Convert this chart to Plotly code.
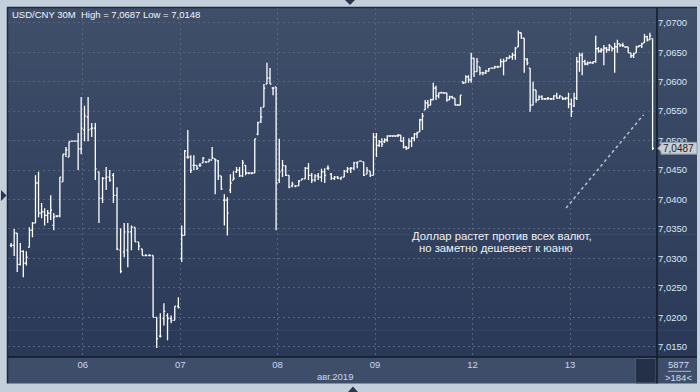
import plotly.graph_objects as go

# ---------------- data (USD/CNY, 30-minute bars) ----------------
day_labels = ["05", "06", "07", "08", "09", "12", "13"]
bars_per_day = [24, 27, 32, 30, 36, 33, 31]

open_ = [
    7.0322, 7.0322, 7.0343, 7.0290, 7.0312, 7.0292, 7.0319, 7.0348, 7.0360, 7.0428, 7.0377, 7.0379,
    7.0373, 7.0377, 7.0356, 7.0372, 7.0372, 7.0430, 7.0477, 7.0472, 7.0499, 7.0499, 7.0499, 7.0486,
    7.0518, 7.0540, 7.0520, 7.0521, 7.0447, 7.0402, 7.0436, 7.0438, 7.0441, 7.0407, 7.0314, 7.0311,
    7.0314, 7.0345, 7.0353, 7.0328, 7.0316, 7.0305, 7.0305, 7.0305, 7.0200, 7.0168, 7.0198, 7.0203,
    7.0198, 7.0195, 7.0219,
    7.0300, 7.0339, 7.0472, 7.0472, 7.0458, 7.0458, 7.0458, 7.0462, 7.0464, 7.0464, 7.0467, 7.0469,
    7.0465, 7.0440, 7.0399, 7.0399, 7.0416, 7.0433, 7.0447, 7.0450, 7.0440, 7.0458, 7.0445, 7.0445,
    7.0445, 7.0511, 7.0532, 7.0557, 7.0596, 7.0606, 7.0589, 7.0591,
    7.0433, 7.0450, 7.0457, 7.0441, 7.0423, 7.0423, 7.0423, 7.0433, 7.0435, 7.0453, 7.0441, 7.0433,
    7.0440, 7.0438, 7.0447, 7.0453, 7.0443, 7.0436, 7.0438, 7.0436, 7.0438, 7.0448, 7.0452, 7.0453,
    7.0462, 7.0465, 7.0464, 7.0443, 7.0448, 7.0441,
    7.0506, 7.0492, 7.0498, 7.0498, 7.0501, 7.0508, 7.0508, 7.0508, 7.0508, 7.0509, 7.0499, 7.0489,
    7.0487, 7.0499, 7.0504, 7.0511, 7.0515, 7.0535, 7.0552, 7.0564, 7.0560, 7.0569, 7.0589, 7.0576,
    7.0581, 7.0581, 7.0581, 7.0569, 7.0574, 7.0572, 7.0560, 7.0560, 7.0600, 7.0598, 7.0608, 7.0603,
    7.0640, 7.0617, 7.0625, 7.0615, 7.0615, 7.0618, 7.0623, 7.0623, 7.0625, 7.0625, 7.0634, 7.0635,
    7.0640, 7.0642, 7.0645, 7.0659, 7.0683, 7.0674, 7.0637, 7.0623, 7.0560, 7.0586, 7.0569, 7.0574,
    7.0571, 7.0571, 7.0571, 7.0571, 7.0576, 7.0572, 7.0574, 7.0571, 7.0572,
    7.0562, 7.0559, 7.0572, 7.0634, 7.0645, 7.0634, 7.0630, 7.0632, 7.0632, 7.0634, 7.0656, 7.0652,
    7.0654, 7.0657, 7.0654, 7.0659, 7.0656, 7.0659, 7.0664, 7.0662, 7.0659, 7.0659, 7.0649, 7.0644,
    7.0649, 7.0659, 7.0661, 7.0666, 7.0676, 7.0671, 7.0673,
]
high = [
    7.0326, 7.0350, 7.0343, 7.0326, 7.0314, 7.0312, 7.0353, 7.0362, 7.0441, 7.0447, 7.0394, 7.0385,
    7.0382, 7.0407, 7.0377, 7.0373, 7.0438, 7.0477, 7.0489, 7.0498, 7.0499, 7.0499, 7.0513, 7.0574,
    7.0559, 7.0574, 7.0530, 7.0530, 7.0447, 7.0438, 7.0455, 7.0450, 7.0445, 7.0421, 7.0351, 7.0360,
    7.0360, 7.0356, 7.0353, 7.0328, 7.0316, 7.0307, 7.0307, 7.0305, 7.0200, 7.0207, 7.0224, 7.0207,
    7.0203, 7.0219, 7.0234,
    7.0356, 7.0484, 7.0518, 7.0475, 7.0475, 7.0458, 7.0462, 7.0472, 7.0465, 7.0469, 7.0489, 7.0469,
    7.0467, 7.0440, 7.0409, 7.0404, 7.0443, 7.0448, 7.0455, 7.0455, 7.0467, 7.0458, 7.0445, 7.0445,
    7.0503, 7.0532, 7.0557, 7.0596, 7.0632, 7.0623, 7.0591, 7.0591,
    7.0503, 7.0467, 7.0458, 7.0441, 7.0430, 7.0424, 7.0433, 7.0436, 7.0455, 7.0462, 7.0445, 7.0443,
    7.0445, 7.0452, 7.0453, 7.0458, 7.0445, 7.0440, 7.0440, 7.0438, 7.0450, 7.0455, 7.0455, 7.0464,
    7.0464, 7.0465, 7.0464, 7.0455, 7.0448, 7.0513,
    7.0513, 7.0501, 7.0504, 7.0504, 7.0509, 7.0509, 7.0509, 7.0509, 7.0511, 7.0509, 7.0506, 7.0491,
    7.0504, 7.0506, 7.0513, 7.0515, 7.0537, 7.0547, 7.0569, 7.0569, 7.0571, 7.0598, 7.0593, 7.0581,
    7.0583, 7.0581, 7.0581, 7.0576, 7.0576, 7.0572, 7.0562, 7.0577, 7.0600, 7.0611, 7.0611, 7.0649,
    7.0640, 7.0640, 7.0625, 7.0617, 7.0620, 7.0623, 7.0623, 7.0627, 7.0627, 7.0639, 7.0639, 7.0642,
    7.0645, 7.0649, 7.0659, 7.0687, 7.0683, 7.0674, 7.0640, 7.0623, 7.0600, 7.0586, 7.0577, 7.0577,
    7.0571, 7.0574, 7.0571, 7.0577, 7.0581, 7.0577, 7.0574, 7.0574, 7.0581,
    7.0571, 7.0581, 7.0642, 7.0649, 7.0649, 7.0637, 7.0634, 7.0634, 7.0634, 7.0678, 7.0659, 7.0657,
    7.0662, 7.0659, 7.0664, 7.0659, 7.0666, 7.0671, 7.0664, 7.0666, 7.0659, 7.0659, 7.0649, 7.0649,
    7.0661, 7.0662, 7.0666, 7.0681, 7.0678, 7.0683, 7.0673,
]
low = [
    7.0319, 7.0304, 7.0277, 7.0288, 7.0268, 7.0288, 7.0319, 7.0336, 7.0360, 7.0370, 7.0368, 7.0356,
    7.0360, 7.0365, 7.0348, 7.0370, 7.0370, 7.0430, 7.0472, 7.0472, 7.0498, 7.0498, 7.0450, 7.0477,
    7.0499, 7.0499, 7.0506, 7.0433, 7.0360, 7.0394, 7.0416, 7.0430, 7.0394, 7.0314, 7.0275, 7.0302,
    7.0285, 7.0314, 7.0328, 7.0314, 7.0305, 7.0304, 7.0304, 7.0200, 7.0148, 7.0166, 7.0186, 7.0161,
    7.0190, 7.0195, 7.0215,
    7.0294, 7.0339, 7.0469, 7.0445, 7.0450, 7.0450, 7.0455, 7.0462, 7.0462, 7.0464, 7.0469, 7.0409,
    7.0433, 7.0416, 7.0356, 7.0339, 7.0411, 7.0433, 7.0445, 7.0438, 7.0438, 7.0441, 7.0443, 7.0443,
    7.0445, 7.0509, 7.0530, 7.0557, 7.0596, 7.0596, 7.0577, 7.0348,
    7.0428, 7.0438, 7.0440, 7.0419, 7.0421, 7.0421, 7.0423, 7.0433, 7.0435, 7.0433, 7.0428, 7.0430,
    7.0433, 7.0430, 7.0428, 7.0450, 7.0433, 7.0433, 7.0435, 7.0433, 7.0438, 7.0445, 7.0445, 7.0450,
    7.0453, 7.0464, 7.0440, 7.0443, 7.0438, 7.0441,
    7.0472, 7.0489, 7.0489, 7.0496, 7.0498, 7.0506, 7.0506, 7.0506, 7.0506, 7.0498, 7.0487, 7.0484,
    7.0487, 7.0489, 7.0499, 7.0504, 7.0515, 7.0518, 7.0552, 7.0555, 7.0560, 7.0569, 7.0569, 7.0572,
    7.0581, 7.0579, 7.0566, 7.0569, 7.0571, 7.0560, 7.0559, 7.0560, 7.0596, 7.0598, 7.0598, 7.0598,
    7.0608, 7.0617, 7.0611, 7.0611, 7.0613, 7.0617, 7.0622, 7.0622, 7.0623, 7.0625, 7.0611, 7.0635,
    7.0639, 7.0637, 7.0637, 7.0659, 7.0673, 7.0615, 7.0628, 7.0549, 7.0560, 7.0564, 7.0569, 7.0569,
    7.0569, 7.0569, 7.0569, 7.0569, 7.0571, 7.0571, 7.0569, 7.0569, 7.0555,
    7.0540, 7.0557, 7.0569, 7.0617, 7.0611, 7.0628, 7.0628, 7.0632, 7.0630, 7.0632, 7.0649, 7.0649,
    7.0628, 7.0649, 7.0652, 7.0651, 7.0615, 7.0649, 7.0659, 7.0659, 7.0657, 7.0649, 7.0640, 7.0640,
    7.0649, 7.0659, 7.0657, 7.0666, 7.0668, 7.0671, 7.0484,
]
close = [
    7.0322, 7.0343, 7.0290, 7.0312, 7.0292, 7.0302, 7.0348, 7.0360, 7.0428, 7.0377, 7.0379, 7.0373,
    7.0377, 7.0382, 7.0370, 7.0372, 7.0438, 7.0477, 7.0484, 7.0498, 7.0499, 7.0499, 7.0486, 7.0521,
    7.0542, 7.0518, 7.0521, 7.0452, 7.0402, 7.0436, 7.0438, 7.0433, 7.0407, 7.0316, 7.0278, 7.0345,
    7.0345, 7.0353, 7.0328, 7.0321, 7.0305, 7.0305, 7.0305, 7.0200, 7.0164, 7.0168, 7.0210, 7.0198,
    7.0195, 7.0219, 7.0217,
    7.0339, 7.0482, 7.0472, 7.0450, 7.0458, 7.0453, 7.0458, 7.0470, 7.0464, 7.0467, 7.0470, 7.0467,
    7.0440, 7.0418, 7.0399, 7.0377, 7.0428, 7.0436, 7.0450, 7.0440, 7.0462, 7.0445, 7.0445, 7.0445,
    7.0503, 7.0530, 7.0540, 7.0589, 7.0606, 7.0596, 7.0589, 7.0428,
    7.0447, 7.0458, 7.0441, 7.0421, 7.0426, 7.0423, 7.0431, 7.0435, 7.0453, 7.0441, 7.0433, 7.0440,
    7.0438, 7.0447, 7.0441, 7.0453, 7.0436, 7.0438, 7.0436, 7.0438, 7.0448, 7.0452, 7.0453, 7.0462,
    7.0464, 7.0465, 7.0441, 7.0450, 7.0441, 7.0506,
    7.0492, 7.0498, 7.0494, 7.0501, 7.0508, 7.0508, 7.0508, 7.0508, 7.0509, 7.0499, 7.0489, 7.0487,
    7.0499, 7.0504, 7.0511, 7.0513, 7.0535, 7.0542, 7.0564, 7.0560, 7.0569, 7.0589, 7.0576, 7.0581,
    7.0581, 7.0581, 7.0569, 7.0574, 7.0572, 7.0560, 7.0560, 7.0577, 7.0598, 7.0608, 7.0603, 7.0640,
    7.0617, 7.0634, 7.0615, 7.0615, 7.0618, 7.0622, 7.0623, 7.0625, 7.0625, 7.0634, 7.0635, 7.0640,
    7.0642, 7.0645, 7.0657, 7.0683, 7.0674, 7.0639, 7.0632, 7.0560, 7.0586, 7.0569, 7.0574, 7.0571,
    7.0571, 7.0572, 7.0571, 7.0576, 7.0572, 7.0576, 7.0571, 7.0572, 7.0562,
    7.0549, 7.0572, 7.0634, 7.0645, 7.0634, 7.0630, 7.0632, 7.0632, 7.0634, 7.0656, 7.0652, 7.0654,
    7.0657, 7.0654, 7.0661, 7.0656, 7.0659, 7.0664, 7.0662, 7.0661, 7.0659, 7.0649, 7.0644, 7.0647,
    7.0659, 7.0661, 7.0664, 7.0676, 7.0671, 7.0678, 7.0487,
]

assert len(open_) == len(high) == len(low) == len(close) == sum(bars_per_day)

# ---------------- x positions: trading days, bars evenly spread within each day ----------------
slots_per_day = [32, 27, 32, 30, 36, 33, 36]
x = []
for d, (nb, ns) in enumerate(zip(bars_per_day, slots_per_day)):
    off = ns - nb if d == 0 else 0  # first (partial) day only shows its last bars
    for k in range(nb):
        x.append(d + (off + k + 0.5) / ns)

X_RANGE = [0.2335, 6.8926]
Y_RANGE = [7.01327, 7.07250]


def fmt(v):
    return f"{v:.4f}".replace(".", ",")


FONT = "Liberation Sans, Arial, sans-serif"
GRID = "#56647f"

fig = go.Figure(
    go.Ohlc(
        x=x, open=open_, high=high, low=low, close=close,
        increasing=dict(line=dict(color="#ffffff", width=1.3)),
        decreasing=dict(line=dict(color="#ffffff", width=1.3)),
        tickwidth=0.5, hoverinfo="skip", showlegend=False,
    )
)

# ---------------- geometry helpers (pixel -> paper) ----------------
L, R, T, B = 8, 43, 8, 35
W, H = 700, 392
PW, PH = W - L - R, H - T - B


def px(xp):
    return (xp - L) / PW


def py(yp):
    return (H - B - yp) / PH


shapes = []
# gradient background of plot + right axis panel
top_c = (63, 79, 106)
bot_c = (42, 57, 87)
N = 40
for i in range(N):
    f = (i + 0.5) / N
    c = tuple(round(bot_c[j] + (top_c[j] - bot_c[j]) * f) for j in range(3))
    shapes.append(dict(type="rect", xref="paper", yref="paper", layer="below",
                       x0=0, x1=px(697), y0=i / N, y1=(i + 1) / N + 0.002,
                       fillcolor="rgb(%d,%d,%d)" % c, line=dict(width=0)))
# date strip
shapes.append(dict(type="rect", xref="paper", yref="paper", layer="below",
                   x0=0, x1=px(697), y0=py(383.5), y1=0,
                   fillcolor="#3e4e6a", line=dict(width=0)))
# small dark square in strip
shapes.append(dict(type="rect", xref="paper", yref="paper", layer="above",
                   x0=px(635.5), x1=px(656), y0=py(383), y1=py(358.5),
                   fillcolor="#243048", line=dict(width=1, color="#4c5a72")))
# frame lines
dark = "#131a26"
shapes += [
    dict(type="line", xref="paper", yref="paper", layer="above",
         x0=px(7), x1=px(697), y0=0, y1=0, line=dict(color=dark, width=1.5)),
    dict(type="line", xref="paper", yref="paper", layer="above",
         x0=1, x1=1, y0=py(383.5), y1=py(7.5), line=dict(color=dark, width=1.5)),
    dict(type="line", xref="paper", yref="paper", layer="above",
         x0=px(7), x1=px(697), y0=py(7.5), y1=py(7.5), line=dict(color="#1e2738", width=1.5)),
    dict(type="line", xref="paper", yref="paper", layer="above",
         x0=px(7.5), x1=px(7.5), y0=py(383.5), y1=py(7.5), line=dict(color="#1e2738", width=1.5)),
    dict(type="line", xref="paper", yref="paper", layer="above",
         x0=px(668), x1=px(691), y0=py(371.3), y1=py(371.3), line=dict(color="#aab8cf", width=1)),
]
# navigation triangles on the frame
tri = "#2b3650"
shapes += [
    dict(type="path", xref="paper", yref="paper", layer="above", fillcolor=tri, line=dict(width=0),
         path=f"M {px(345)},{py(0)} L {px(355)},{py(0)} L {px(350)},{py(5)} Z"),
    dict(type="path", xref="paper", yref="paper", layer="above", fillcolor=tri, line=dict(width=0),
         path=f"M {px(348)},{py(392)} L {px(358)},{py(392)} L {px(353)},{py(386.5)} Z"),
    dict(type="path", xref="paper", yref="paper", layer="above", fillcolor=tri, line=dict(width=0),
         path=f"M {px(1)},{py(190)} L {px(1)},{py(201)} L {px(6.5)},{py(195.5)} Z"),
]
# dotted trend line (drawn on chart)
shapes.append(dict(type="line", xref="x", yref="y", layer="above",
                   x0=5.959, y0=7.03855, x1=6.755, y1=7.05440,
                   line=dict(color="#b9c2d0", width=1.5, dash="dot")))
# last-price marker on the right axis
last = close[-1]
hh, ah = 0.00100, 0.00055
shapes.append(dict(type="path", xref="paper", yref="y", layer="above",
                   fillcolor="#c9ced6", line=dict(color="#8d97a8", width=1),
                   path=(f"M {px(657.5)},{last} L {px(661)},{last + ah} L {px(661)},{last + hh} "
                         f"L {px(697)},{last + hh} L {px(697)},{last - hh} L {px(661)},{last - hh} "
                         f"L {px(661)},{last - ah} Z")))

ann = [
    dict(text=f"USD/CNY 30M\u00a0 High = {fmt(max(high))} Low = {fmt(min(low))}",
         xref="paper", yref="paper", x=px(10), y=py(15), xanchor="left", yanchor="middle",
         showarrow=False, font=dict(family=FONT, size=9.5, color="#f2f5fa")),
    dict(text="Доллар растет против всех валют,", xref="paper", yref="paper",
         x=px(501.5), y=py(236), xanchor="center", yanchor="middle", showarrow=False,
         font=dict(family=FONT, size=11.3, color="#eef2f8")),
    dict(text="но заметно дешевеет к юаню", xref="paper", yref="paper",
         x=px(496.5), y=py(248.3), xanchor="center", yanchor="middle", showarrow=False,
         font=dict(family=FONT, size=11.3, color="#eef2f8")),
    dict(text="авг.2019", xref="paper", yref="paper", x=px(335), y=py(376.7),
         xanchor="center", yanchor="middle", showarrow=False,
         font=dict(family=FONT, size=9.5, color="#c8d6ee")),
    dict(text="5877", xref="paper", yref="paper", x=px(679), y=py(364.3),
         xanchor="center", yanchor="middle", showarrow=False,
         font=dict(family=FONT, size=9.5, color="#d2def2")),
    dict(text="&gt;184&lt;", xref="paper", yref="paper", x=px(679), y=py(377.5),
         xanchor="center", yanchor="middle", showarrow=False,
         font=dict(family=FONT, size=9.5, color="#d2def2")),
    dict(text=fmt(last), xref="paper", yref="y", x=px(678.5), y=last,
         xanchor="center", yanchor="middle", showarrow=False,
         font=dict(family=FONT, size=10, color="#222222")),
]

fig.update_layout(
    width=W, height=H,
    margin=dict(l=L, r=R, t=T, b=B, pad=0),
    paper_bgcolor="#c4cfdc",
    plot_bgcolor="rgba(0,0,0,0)",
    separators=", ",
    showlegend=False,
    shapes=shapes,
    annotations=ann,
    xaxis=dict(
        range=X_RANGE, tickmode="array",
        tickvals=list(range(1, len(day_labels))), ticktext=day_labels[1:],
        showgrid=True, gridcolor=GRID, griddash="2px,3px", gridwidth=1,
        zeroline=False, showline=False, ticks="",
        tickfont=dict(family=FONT, size=9.5, color="#c8d6ee"),
        rangeslider=dict(visible=False), fixedrange=True,
    ),
    yaxis=dict(
        range=Y_RANGE, side="right", tick0=7.0, dtick=0.005, tickformat=".4f",
        showgrid=True, gridcolor=GRID, griddash="2px,3px", gridwidth=1,
        zeroline=False, showline=False, ticks="",
        tickfont=dict(family=FONT, size=9.5, color="#dce6f5"),
        fixedrange=True,
    ),
)

fig.write_html("out.html", config={"displayModeBar": False, "staticPlot": True})
